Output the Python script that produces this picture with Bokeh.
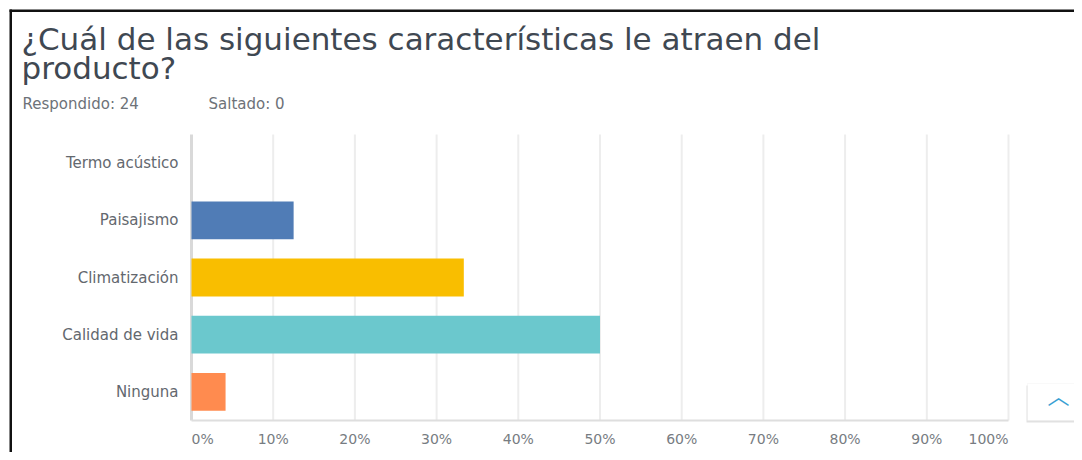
from bokeh.plotting import figure
from bokeh.models import ColumnDataSource, Label, BoxAnnotation, Range1d
from bokeh.embed import file_html
from bokeh.resources import INLINE
from bokeh.core.properties import value, field

# ---------------- data ----------------
title_line1 = "¿Cuál de las siguientes características le atraen del"
title_line2 = "producto?"
answered_text = "Respondido: 24"
skipped_text = "Saltado: 0"
categories = ["Termo acústico", "Paisajismo", "Climatización", "Calidad de vida", "Ninguna"]
percentages = [0.0, 12.5, 33.33, 50.0, 4.17]
bar_colors = ["#507cb6", "#507cb6", "#f9be00", "#6bc8cd", "#ff8b4f"]
tick_values = [0, 10, 20, 30, 40, 50, 60, 70, 80, 90, 100]
tick_labels = ["0%", "10%", "20%", "30%", "40%", "50%", "60%", "70%", "80%", "90%", "100%"]
tick_align = ["left"] + ["center"] * 9 + ["right"]

# ---------------- layout (pixels) ----------------
W, H = 1074, 452
PLOT_L, PLOT_R = 191, 1008      # x pixel of 0% and 100%
PLOT_T, PLOT_B = 134, 420       # y pixel of top / bottom of category band
N = len(categories)
xs = (PLOT_R - PLOT_L) / 100.0
ys = (PLOT_B - PLOT_T) / float(N)


def dx(px):
    return (px - PLOT_L) / xs


def dy(py):
    return (PLOT_B - py) / ys


FONT = "DejaVu Sans"

p = figure(width=W, height=H,
           x_range=Range1d(dx(0), dx(W)), y_range=Range1d(dy(H), dy(0)),
           output_backend="svg", toolbar_location=None,
           x_axis_location=None, y_axis_location=None,
           min_border=0)
p.outline_line_color = None
p.background_fill_color = "white"
p.border_fill_color = "white"
p.grid.visible = False

# category positions (top category first)
ypos = [N - 0.5 - i for i in range(N)]

# vertical grid lines
p.segment(x0=tick_values[1:], x1=tick_values[1:], y0=0, y1=N,
          line_color="#ededed", line_width=2)
p.segment(x0=[0], x1=[0], y0=0, y1=N, line_color="#d9d9d9", line_width=3)
# bottom axis line
p.segment(x0=[0], x1=[100], y0=0, y1=0, line_color="#dedede", line_width=2)

# bars
src = ColumnDataSource(dict(y=ypos, cat=categories, pct=percentages, color=bar_colors))
p.hbar(y="y", left=0, right="pct", height=0.66, source=src,
       fill_color="color", line_color=None)

# category labels
p.text(x=0, y="y", text="cat", source=src, x_offset=-13,
       text_align="right", text_baseline="middle",
       text_font=value(FONT), text_font_size="15px", text_color="#63686e")

# x tick labels
tsrc = ColumnDataSource(dict(x=tick_values, y=[dy(438)] * len(tick_values),
                             text=tick_labels, align=tick_align))
p.text(x="x", y="y", text="text", source=tsrc,
       text_align=field("align"), text_baseline="middle",
       text_font=value(FONT), text_font_size="14px", text_color="#777c82")

# title and subtitle
p.add_layout(Label(x=dx(21), y=dy(38), text=title_line1, text_align="left",
                   text_baseline="middle", text_font=FONT, text_font_size="31px",
                   text_color="#3f4852"))
p.add_layout(Label(x=dx(21), y=dy(67), text=title_line2, text_align="left",
                   text_baseline="middle", text_font=FONT, text_font_size="31px",
                   text_color="#3f4852"))
p.add_layout(Label(x=dx(22), y=dy(103), text=answered_text, text_align="left",
                   text_baseline="middle", text_font=FONT, text_font_size="15px",
                   text_color="#6d7278"))
p.add_layout(Label(x=dx(208), y=dy(103), text=skipped_text, text_align="left",
                   text_baseline="middle", text_font=FONT, text_font_size="15px",
                   text_color="#6d7278"))

# page border (left and top)
p.add_layout(BoxAnnotation(left=dx(9), right=dx(11.5), bottom=dy(H + 5), top=dy(9),
                           fill_color="#111111", fill_alpha=1, line_color=None))
p.add_layout(BoxAnnotation(left=dx(9), right=dx(W + 5), bottom=dy(11.5), top=dy(9),
                           fill_color="#111111", fill_alpha=1, line_color=None))

# scroll-to-top button
p.add_layout(BoxAnnotation(left=dx(1026), right=dx(W + 5), bottom=dy(422), top=dy(385),
                           fill_color="#d9d9d9", fill_alpha=0.8, line_color=None))
p.add_layout(BoxAnnotation(left=dx(1027), right=dx(W + 5), bottom=dy(420), top=dy(383),
                           fill_color="white", fill_alpha=1, line_color="#ececec"))
p.add_layout(Label(x=dx(1058), y=dy(393), text="︿", text_align="center",
                   text_baseline="middle", text_font="Noto Sans CJK JP",
                   text_font_size="22px", text_color="#3a9fd3"))

open("out.html", "w").write(file_html(p, INLINE))
